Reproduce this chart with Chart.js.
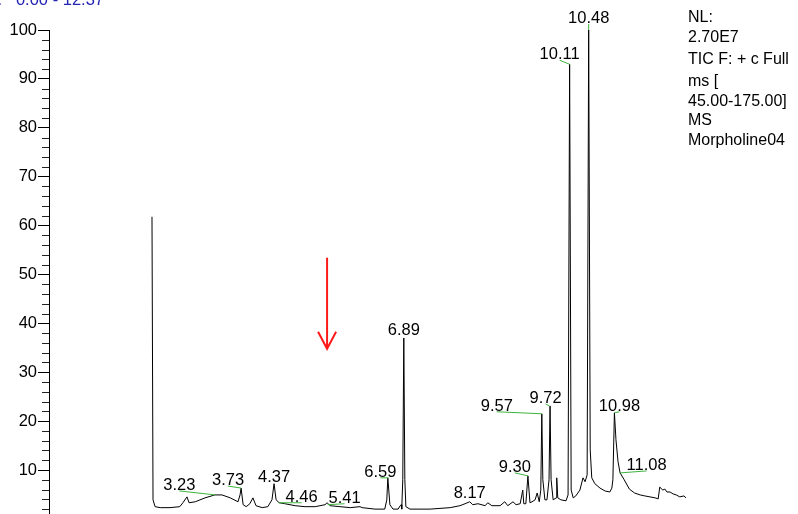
<!DOCTYPE html>
<html>
<head>
<meta charset="utf-8">
<script src="https://cdn.jsdelivr.net/npm/chart.js@4.4.1/dist/chart.umd.min.js"></script>
<style>
  html, body { margin: 0; padding: 0; background: #fff; overflow: hidden; }
  #wrap { width: 798px; height: 514px; position: relative; }
</style>
</head>
<body>
<div id="wrap"><canvas id="tic"></canvas></div>
<script>
// retention time (min) and relative abundance (%)
const times = [
  2.00, 2.02, 2.06, 2.16, 2.35, 2.54, 2.60, 2.68, 2.72, 2.84, 3.03, 3.22, 3.36, 3.52, 3.67, 3.71,
  3.73, 3.77, 3.83, 3.90, 3.96, 4.02, 4.14, 4.25, 4.33, 4.37, 4.41, 4.47, 4.58, 4.78, 4.97, 5.17,
  5.36, 5.40, 5.46, 5.65, 5.85, 6.04, 6.08, 6.33, 6.52, 6.56, 6.58, 6.62, 6.68, 6.78, 6.82, 6.84,
  6.85, 6.87, 6.89, 6.91, 6.93, 7.01, 7.40, 7.79, 7.98, 8.08, 8.17, 8.23, 8.33, 8.47, 8.52, 8.60,
  8.76, 8.85, 8.91, 9.01, 9.07, 9.15, 9.20, 9.22, 9.26, 9.30, 9.34, 9.38, 9.44, 9.48, 9.52, 9.55,
  9.57, 9.59, 9.63, 9.67, 9.71, 9.73, 9.75, 9.79, 9.85, 9.86, 9.88, 9.94, 10.04, 10.08, 10.11, 10.14,
  10.18, 10.23, 10.31, 10.37, 10.41, 10.45, 10.48, 10.51, 10.54, 10.60, 10.70, 10.80, 10.89, 10.93, 10.95, 10.98,
  11.01, 11.05, 11.09, 11.17, 11.27, 11.37, 11.48, 11.57, 11.67, 11.77, 11.83, 11.86, 11.92, 11.96, 12.00, 12.06,
  12.12, 12.18, 12.25, 12.33, 12.37
];
const intensities = [
  61.8, 3.9, 2.5, 2.3, 2.3, 2.5, 3.3, 4.5, 3.3, 3.5, 4.3, 4.9, 4.9, 4.3, 3.5, 4.9,
  6.3, 2.9, 2.5, 3.1, 4.3, 2.7, 2.3, 2.5, 3.9, 7.2, 3.9, 3.3, 3.1, 2.7, 2.5, 2.5,
  2.9, 3.3, 2.7, 2.5, 2.3, 2.5, 2.3, 2.0, 2.0, 3.9, 8.4, 2.9, 2.0, 2.0, 2.7, 2.9,
  2.0, 8.0, 37.0, 8.0, 2.5, 2.0, 2.0, 2.3, 2.7, 3.1, 3.5, 2.9, 3.1, 2.7, 3.3, 2.7,
  2.7, 3.5, 2.7, 3.5, 2.9, 3.1, 5.9, 3.1, 3.1, 8.8, 3.3, 3.5, 3.9, 5.3, 3.5, 5.9,
  21.5, 8.0, 3.9, 3.9, 8.0, 23.1, 8.0, 3.9, 4.3, 8.4, 4.3, 3.9, 3.7, 4.9, 93.0, 5.9,
  4.3, 4.7, 5.9, 8.4, 7.6, 9.0, 100, 14.1, 8.4, 7.2, 6.3, 5.7, 5.5, 6.3, 8.0, 21.7,
  16.2, 11.7, 9.4, 8.0, 6.1, 5.3, 4.9, 4.7, 4.5, 4.3, 4.1, 6.5, 5.9, 6.1, 5.5, 5.5,
  5.1, 4.9, 4.5, 4.7, 4.3
];

// annotated peaks
const peakLabels = ["3.23", "3.73", "4.37", "4.46", "5.41", "6.59", "6.89", "8.17",
                    "9.30", "9.57", "9.72", "10.11", "10.48", "10.98", "11.08"];
const peakTimes = [3.23, 3.73, 4.37, 4.46, 5.41, 6.59, 6.89, 8.17,
                   9.30, 9.57, 9.72, 10.11, 10.48, 10.98, 11.08];
const peakValues = [4.9, 6.3, 7.2, 3.3, 2.9, 8.4, 37.0, 3.5,
                    8.8, 21.5, 23.1, 93.0, 100, 21.7, 9.4];

const yTicks = [10, 20, 30, 40, 50, 60, 70, 80, 90, 100];
const infoLines = ["NL:", "2.70E7", "TIC F: + c Full", "ms [", "45.00-175.00]", "MS", "Morpholine04"];
const rangeText = "RT:   0.00 - 12.37";
const arrowTime = 5.40, arrowFrom = 53.4, arrowTo = 34.8;

// label offsets from the peak point (px)
const labelOffsets = [[-36, -5], [-13, -3], [0, -2], [23, -1], [17, -2], [-8, -1], [0, -3], [0, -4],
                      [-13, -4], [-45, -3], [-4, -3], [-10, -5], [0, -7], [5, -2], [27, -3]];
const infoBaselines = [22, 42, 64, 86, 106, 125, 145];

const FONT = "Arial, 'Liberation Sans', sans-serif";

const extras = {
  id: "extras",
  afterDraw(chart) {
    const { ctx, scales: { x, y } } = chart;
    const left = chart.chartArea.left;
    ctx.save();

    // minor ticks every 2
    ctx.strokeStyle = "#222";
    ctx.lineWidth = 1;
    for (let v = 2; v < 100; v += 2) {
      if (v % 10 === 0) continue;
      const py = Math.round(y.getPixelForValue(v)) + 0.5;
      ctx.beginPath();
      ctx.moveTo(left - 7, py);
      ctx.lineTo(left, py);
      ctx.stroke();
    }

    // peak labels + green leaders
    ctx.font = "16.5px " + FONT;
    ctx.textAlign = "center";
    ctx.textBaseline = "alphabetic";
    peakLabels.forEach((lab, i) => {
      const px = x.getPixelForValue(peakTimes[i]);
      const py = y.getPixelForValue(peakValues[i]);
      const lx = px + labelOffsets[i][0];
      const ly = py + labelOffsets[i][1];
      if (Math.hypot(lx - px, ly + 1 - py) > 3) {
        ctx.strokeStyle = "#3cb43c";
        ctx.beginPath();
        ctx.moveTo(lx, ly + 1);
        ctx.lineTo(px, py);
        ctx.stroke();
      }
      ctx.fillStyle = "#000";
      ctx.fillText(lab, lx, ly);
    });

    // info block on the right
    ctx.textAlign = "left";
    ctx.font = "16px " + FONT;
    infoLines.forEach((t, i) => ctx.fillText(t, 688, infoBaselines[i]));

    // cut-off range header
    ctx.fillStyle = "#2323b4";
    ctx.font = "16.5px " + FONT;
    ctx.textAlign = "right";
    ctx.fillText(rangeText, 104, 5);

    // red arrow
    const ax = x.getPixelForValue(arrowTime);
    const a1 = y.getPixelForValue(arrowFrom);
    const a2 = y.getPixelForValue(arrowTo);
    ctx.strokeStyle = "#ff1a1a";
    ctx.lineWidth = 2;
    ctx.beginPath();
    ctx.moveTo(ax, a1);
    ctx.lineTo(ax, a2);
    ctx.moveTo(ax - 9, a2 - 17);
    ctx.lineTo(ax, a2);
    ctx.lineTo(ax + 9, a2 - 17);
    ctx.stroke();

    ctx.restore();
  }
};

const chart = new Chart(document.getElementById("tic"), {
  type: "line",
  data: {
    datasets: [{
      data: times.map((t, i) => ({ x: t, y: intensities[i] })),
      borderColor: "#000",
      borderWidth: 1,
      pointRadius: 0,
      tension: 0,
      fill: false,
      clip: false,
    }],
  },
  options: {
    responsive: true,
    maintainAspectRatio: false,
    animation: false,
    devicePixelRatio: 1,
    layout: { padding: { left: 0, right: 112, top: 30, bottom: 0 } },
    plugins: {
      legend: { display: false },
      tooltip: { enabled: false },
    },
    scales: {
      x: {
        type: "linear",
        min: 0,
        max: 12.37,
        display: false,
      },
      y: {
        min: 1,
        max: 100,
        afterFit(scale) {
          scale.width = 49;
          scale.paddingTop = 0;
          scale.paddingBottom = 0;
        },
        afterBuildTicks(scale) { scale.ticks = yTicks.map(v => ({ value: v })); },
        border: { display: true, color: "#000", width: 1 },
        grid: { drawOnChartArea: false, tickLength: 11, tickColor: "#000" },
        ticks: {
          padding: 1,
          color: "#000",
          font: { family: FONT, size: 16.5 },
        },
      },
    },
  },
  plugins: [extras],
});
</script>
</body>
</html>
